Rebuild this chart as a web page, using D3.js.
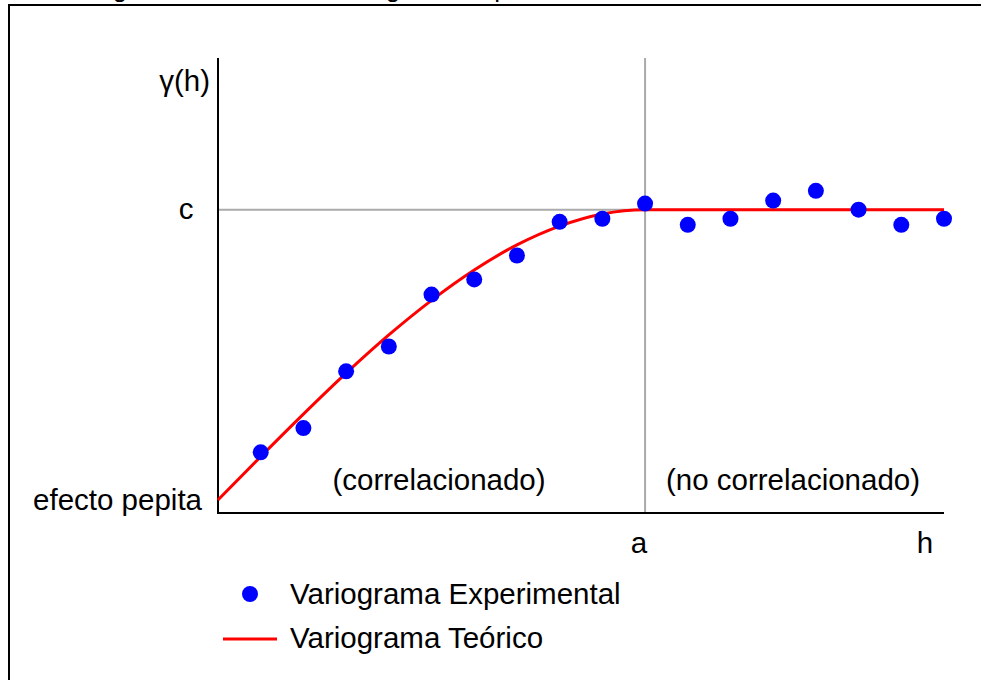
<!DOCTYPE html>
<html>
<head>
<meta charset="utf-8">
<script src="https://cdn.jsdelivr.net/npm/d3@7"></script>
<style>
  body { margin: 0; background: #fff; }
  text { font-family: "Liberation Sans", Arial, sans-serif; fill: #000; }
</style>
</head>
<body>
<div id="chart"></div>
<script>
"use strict"

// Variograma experimental vs teorico (modelo esferico)

// lag index h (1..17), gamma values
var lags = [1, 2, 3, 4, 5, 6, 7, 8, 9, 10, 11, 12, 13, 14, 15, 16, 17]
var experimental = [2.0, 2.8, 4.67, 5.49, 7.2, 7.7, 8.49, 9.6, 9.7, 10.2, 9.5, 9.7, 10.3, 10.62, 10.0, 9.5, 9.7]

// theoretical curve, points
var teoricoH = [0, 1, 2, 3, 4, 5, 6, 7, 8, 9, 10, 17]
var teoricoG = [0.43, 1.86, 3.26, 4.61, 5.87, 7.01, 8.01, 8.84, 9.46, 9.86, 10, 10]

var nugget = 0.43
var sill = 10
var range = 10

var legendLabels = ["Variograma Experimental", "Variograma Teórico"]

var width = 981
var height = 680

var svg = d3.select("#chart").append("svg")
  .attr("width", width)
  .attr("height", height)

// frame + caption above it (only its descenders show, as in the source)
svg.append("text")
  .attr("x", 91)
  .attr("y", -3)
  .style("font-size", "26px")
  .text("Figura 1. Modelo de variograma experimental")

svg.append("rect")
  .attr("x", 9)
  .attr("y", 5)
  .attr("width", 1000)
  .attr("height", 700)
  .attr("fill", "none")
  .attr("stroke", "#000")
  .attr("stroke-width", 2)

var x = d3.scaleLinear().domain([0, 17]).range([218, 944])
var y = d3.scaleLinear().domain([0, 15]).range([513, 58])

// reference lines for sill and range
svg.append("line")
  .attr("x1", x(0)).attr("x2", x(17))
  .attr("y1", y(sill)).attr("y2", y(sill))
  .attr("stroke", "#aaa").attr("stroke-width", 2)
svg.append("line")
  .attr("x1", x(range)).attr("x2", x(range))
  .attr("y1", y(15)).attr("y2", y(0))
  .attr("stroke", "#aaa").attr("stroke-width", 2)

// axes
svg.append("line")
  .attr("x1", x(0)).attr("x2", x(0))
  .attr("y1", y(15)).attr("y2", y(0) + 1)
  .attr("stroke", "#000").attr("stroke-width", 2)
svg.append("line")
  .attr("x1", x(0) - 1).attr("x2", x(17))
  .attr("y1", y(0)).attr("y2", y(0))
  .attr("stroke", "#000").attr("stroke-width", 2)

var line = d3.line()
  .x(function(d) { return x(d[0]) })
  .y(function(d) { return y(d[1]) })
  .curve(d3.curveMonotoneX)

svg.append("path")
  .datum(d3.zip(teoricoH, teoricoG))
  .attr("d", line)
  .attr("fill", "none")
  .attr("stroke", "#ff0000")
  .attr("stroke-width", 3)

svg.append("g").selectAll("circle")
  .data(d3.zip(lags, experimental))
  .enter().append("circle")
    .attr("cx", function(d) { return x(d[0]) })
    .attr("cy", function(d) { return y(d[1]) })
    .attr("r", 8)
    .attr("fill", "#0000ff")

// labels
var fs = "29.5px"
svg.append("text").attr("x", 210).attr("y", 91)
  .attr("text-anchor", "end").style("font-size", fs).text("γ(h)")
svg.append("text").attr("x", 186).attr("y", y(sill) + 9)
  .attr("text-anchor", "middle").style("font-size", fs).text("c")
svg.append("text").attr("x", 202).attr("y", y(nugget) + 10)
  .attr("text-anchor", "end").style("font-size", fs).text("efecto pepita")
svg.append("text").attr("x", x(range) - 6).attr("y", 553)
  .attr("text-anchor", "middle").style("font-size", fs).text("a")
svg.append("text").attr("x", x(17) - 19).attr("y", 553)
  .attr("text-anchor", "middle").style("font-size", fs).text("h")
svg.append("text").attr("x", 439).attr("y", 490)
  .attr("text-anchor", "middle").style("font-size", fs).text("(correlacionado)")
svg.append("text").attr("x", 793).attr("y", 490)
  .attr("text-anchor", "middle").style("font-size", fs).text("(no correlacionado)")

// legend
var leg = svg.append("g")
leg.append("circle").attr("cx", 250).attr("cy", 594).attr("r", 8).attr("fill", "#0000ff")
leg.append("line").attr("x1", 223).attr("x2", 277).attr("y1", 639).attr("y2", 639)
  .attr("stroke", "#ff0000").attr("stroke-width", 3)
leg.selectAll("text")
  .data(legendLabels)
  .enter().append("text")
    .attr("x", 290)
    .attr("y", function(d, i) { return 604 + i * 44 })
    .style("font-size", fs)
    .text(function(d) { return d })
</script>
</body>
</html>
